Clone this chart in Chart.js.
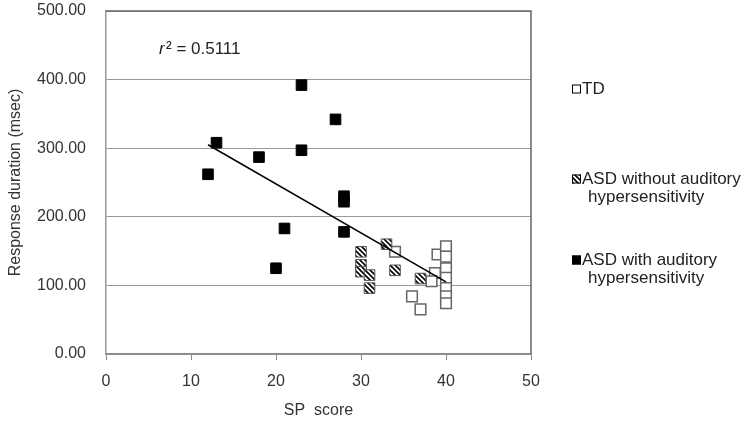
<!DOCTYPE html>
<html>
<head>
<meta charset="utf-8">
<script src="https://cdn.jsdelivr.net/npm/chart.js@4/dist/chart.umd.min.js"></script>
<style>
  html, body { margin: 0; padding: 0; background: #fff; }
  #wrap { width: 750px; height: 426px; }
</style>
</head>
<body>
<div id="wrap"><canvas id="scatterChart" width="750" height="426"></canvas></div>
<script>
// SP score / response duration (msec)
const tdX = [34, 39, 40, 40, 40, 40, 40, 40, 40, 38.7, 38.3, 36, 37];
const tdY = [149, 145, 157, 142, 125, 111, 96, 84, 74, 118, 106, 84, 65];

const asdWithoutX = [30, 30, 30, 31, 31, 33, 34, 37];
const asdWithoutY = [149, 130, 120, 115, 96, 160, 122, 110];

const asdWithX = [12, 13, 18, 20, 21, 23, 23, 27, 28, 28, 28];
const asdWithY = [262, 308, 287, 125, 183, 392, 297, 342, 230, 222, 178];

// regression line end points
const fitX = [12, 40];
const fitY = [305, 105];

const xTicks = [0, 10, 20, 30, 40, 50];
const yTicks = [0, 100, 200, 300, 400, 500];

const seriesNames = ["TD", "ASD without auditory\nhypersensitivity", "ASD with auditory\nhypersensitivity"];
const rSquared = "0.5111";

function toPoints(xs, ys) {
  return xs.map((x, i) => ({ x: x, y: ys[i] }));
}

// diagonal hatch fill
function makeHatch() {
  const c = document.createElement("canvas");
  c.width = 5;
  c.height = 5;
  const g = c.getContext("2d");
  g.fillStyle = "#fff";
  g.fillRect(0, 0, 5, 5);
  g.strokeStyle = "#000";
  g.lineWidth = 1.6;
  g.beginPath();
  g.moveTo(-1, -1); g.lineTo(6, 6);
  g.moveTo(-1, 4); g.lineTo(1, 6);
  g.moveTo(4, -1); g.lineTo(6, 1);
  g.stroke();
  return g.createPattern(c, "repeat");
}
const hatch = makeHatch();

// box on top and right of the plot, r^2 note and legend
const extras = {
  id: "extras",
  afterDraw(chart) {
    const ctx = chart.ctx;
    const a = chart.chartArea;
    ctx.save();
    ctx.strokeStyle = "#666";
    ctx.lineWidth = 1.5;
    ctx.beginPath();
    ctx.moveTo(a.left, a.top);
    ctx.lineTo(a.right, a.top);
    ctx.lineTo(a.right, a.bottom);
    ctx.stroke();

    // r^2 label
    ctx.fillStyle = "#222";
    ctx.textBaseline = "middle";
    ctx.textAlign = "left";
    ctx.font = "italic 17px 'Liberation Sans', Arial, sans-serif";
    ctx.fillText("r", 159, 49);
    ctx.font = "17px 'Liberation Sans', Arial, sans-serif";
    ctx.fillText("\u00b2 = " + rSquared, 166, 49);

    // legend
    const fills = ["#fff", hatch, "#000"];
    const rows = [89, 179, 260];
    ctx.font = "17px 'Liberation Sans', Arial, sans-serif";
    seriesNames.forEach((name, i) => {
      const y = rows[i];
      ctx.fillStyle = fills[i];
      ctx.fillRect(572, y - 4.5, 9, 9);
      ctx.strokeStyle = "#000";
      ctx.lineWidth = 1;
      ctx.strokeRect(572.5, y - 4, 8, 8);
      ctx.fillStyle = "#222";
      name.split("\n").forEach((line, j) => {
        ctx.fillText(line, j === 0 ? 582 : 588, y + j * 18);
      });
    });
    ctx.restore();
  }
};

const ctx = document.getElementById("scatterChart").getContext("2d");
const chart = new Chart(ctx, {
  type: "scatter",
  data: {
    datasets: [
      {
        label: "fit",
        type: "line",
        data: toPoints(fitX, fitY),
        borderColor: "#000",
        borderWidth: 1.5,
        pointRadius: 0,
        fill: false,
        order: 0,
      },
      {
        label: "ASD with auditory hypersensitivity",
        data: toPoints(asdWithX, asdWithY),
        pointStyle: "rect",
        pointRadius: 7.5,
        backgroundColor: "#000",
        borderColor: "#000",
        borderWidth: 1,
        order: 1,
      },
      {
        label: "ASD without auditory hypersensitivity",
        data: toPoints(asdWithoutX, asdWithoutY),
        pointStyle: "rect",
        pointRadius: 7.5,
        backgroundColor: hatch,
        borderColor: "#555",
        borderWidth: 1,
        order: 2,
      },
      {
        label: "TD",
        data: toPoints(tdX, tdY),
        pointStyle: "rect",
        pointRadius: 7.5,
        backgroundColor: "#fff",
        borderColor: "#666",
        borderWidth: 1.5,
        order: 3,
      },
    ],
  },
  options: {
    responsive: false,
    animation: false,
    layout: { padding: { top: 11, right: 219, left: 0, bottom: 0 } },
    plugins: {
      legend: { display: false },
      tooltip: { enabled: false },
    },
    scales: {
      x: {
        type: "linear",
        min: 0,
        max: 50,
        afterBuildTicks: (s) => { s.ticks = xTicks.map((v) => ({ value: v })); },
        afterFit: (s) => { s.height = 72; },
        grid: { drawOnChartArea: false, drawTicks: true, tickLength: 6, color: "#888" },
        border: { color: "#888", width: 1.5 },
        ticks: { padding: 12, color: "#333", font: { size: 16, family: "'Liberation Sans', Arial, sans-serif" } },
        title: {
          display: true,
          text: "SP  score",
          color: "#333",
          padding: { top: 0, bottom: 6 },
          font: { size: 16, family: "'Liberation Sans', Arial, sans-serif" },
        },
      },
      y: {
        type: "linear",
        min: 0,
        max: 500,
        afterBuildTicks: (s) => { s.ticks = yTicks.map((v) => ({ value: v })); },
        afterFit: (s) => {
          s.width = 106;
          s.paddingTop = 0;
          s.paddingBottom = 0;
        },
        grid: { drawTicks: false, color: "#999", lineWidth: 1 },
        border: { color: "#999", width: 1.5 },
        ticks: {
          padding: 20,
          color: "#333",
          font: { size: 16, family: "'Liberation Sans', Arial, sans-serif" },
          callback: (v) => v.toFixed(2),
        },
        title: {
          display: true,
          text: "Response duration (msec)",
          color: "#333",
          padding: { top: 6, bottom: 0 },
          font: { size: 16, family: "'Liberation Sans', Arial, sans-serif" },
        },
      },
    },
  },
  plugins: [extras],
});
</script>
</body>
</html>
